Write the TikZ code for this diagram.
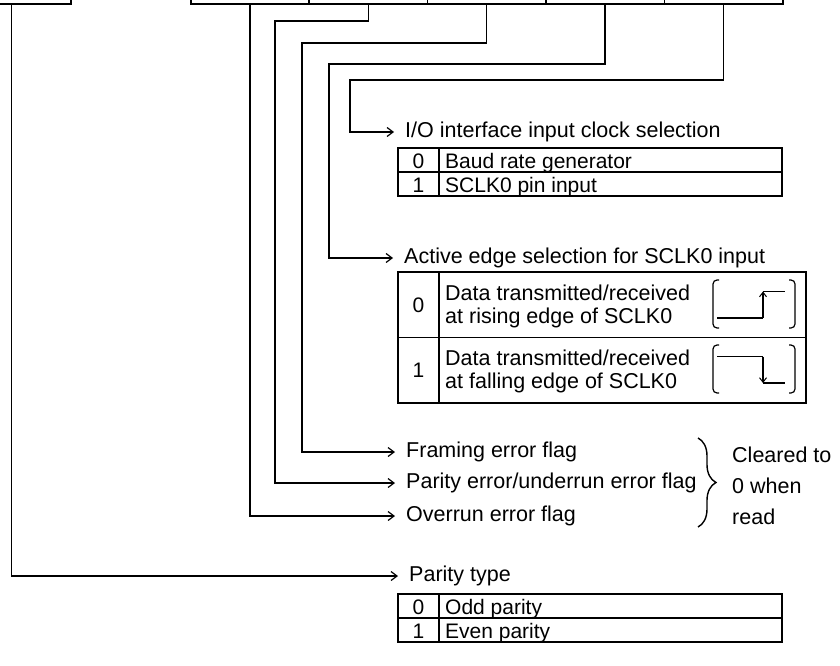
\documentclass[tikz,border=0pt]{standalone}
\usepackage{fontspec}
\setmainfont{Liberation Sans}
\usetikzlibrary{arrows.meta,decorations.pathreplacing}
\begin{document}
\begin{tikzpicture}[x=1pt,y=-1pt,
  ln/.style={line width=1.4pt},
  arr/.style={ln,-{Straight Barb[length=6pt,width=9pt,line width=1.2pt]},shorten >=11pt},
  cellbox/.style={draw,line width=1.5pt,minimum width=118.4pt,minimum height=40pt,inner sep=0pt,anchor=south west},
  lab/.style={anchor=west,inner sep=0pt,text height=15pt,text depth=4pt,font=\fontsize{21.5}{24}\selectfont},
  txt/.style={inner sep=0pt,text height=15.4pt,text depth=0pt,font=\fontsize{21}{24}\selectfont},
  twoline/.style={anchor=west,inner sep=0pt,align=left,font=\fontsize{21.5}{23}\selectfont},
  tbl/.style={line width=1.5pt},
  wave/.style={line width=1.2pt},
  wavearr/.style={line width=1.2pt,-{Straight Barb[length=4.5pt,width=7pt,line width=1pt]}}
]
\useasboundingbox (0,0) rectangle (840,666);
\clip (0,0) rectangle (840,666);

% register cells at top
\node[cellbox] (c0) at (-48.4,5) {};
\node[cellbox] (c1) at (190,5) {};
\node[cellbox] (c2) at (308.4,5) {};
\node[cellbox] (c3) at (426.8,5) {};
\node[cellbox] (c4) at (545.2,5) {};
\node[cellbox] (c5) at (663.6,5) {};

% labels
\node[lab] (lio) at (405,132) {I/O interface input clock selection};
\node[lab] (lae) at (404,258) {Active edge selection for SCLK0 input};
\node[lab] (lfe) at (406,452) {Framing error flag};
\node[lab] (lpe) at (406,483) {Parity error/underrun error flag};
\node[lab] (lov) at (406,516) {Overrun error flag};
\node[lab] (lpt) at (409,576) {Parity type};

% connectors
\draw[arr] (c5.south) |- (350,80) |- (lio.west);
\draw[arr] (c4.south) |- (329,64) |- (lae.west);
\draw[arr] (c3.south) |- (302,43) |- (lfe.west);
\draw[arr] (c2.south) |- (275,21) |- (lpe.west);
\draw[arr] (c1.south) |- (lov.west);
\draw[arr] (c0.south) |- (lpt.west);

% I/O clock table
\draw[tbl] (398,148) rectangle (782,196);
\draw[tbl] (398,172) -- (782,172);
\draw[tbl] (439,148) -- (439,196);
\node[txt] (io0n) at (418.5,160.5) {0};
\node[txt,anchor=west] (io0t) at (445,160.5) {Baud rate generator};
\node[txt] (io1n) at (418.5,184.5) {1};
\node[txt,anchor=west] (io1t) at (445,184.5) {SCLK0 pin input};

% active edge table
\draw[tbl] (398,272) rectangle (806,403);
\draw[tbl] (398,337.5) -- (806,337.5);
\draw[tbl] (439,272) -- (439,403);
\node[txt] (ae0n) at (418.5,304.75) {0};
\node[twoline] (ae0t) at (445,306) {Data transmitted/received\\at rising edge of SCLK0};
\node[txt] (ae1n) at (418.5,370.25) {1};
\node[twoline] (ae1t) at (445,371.5) {Data transmitted/received\\at falling edge of SCLK0};

% waveform symbols, row 0 (rising)
\draw[wave,rounded corners=4pt] (719,280) -- (713,280) -- (713,328) -- (719,328);
\draw[wave,rounded corners=4pt] (789,280) -- (795,280) -- (795,328) -- (789,328);
\draw[wave] (717,318) -- (763,318);
\draw[wavearr] (763,318) -- (763,291.5);
\draw[wave] (763,291.5) -- (785,291.5);
% waveform symbols, row 1 (falling)
\draw[wave,rounded corners=4pt] (719,345) -- (713,345) -- (713,393) -- (719,393);
\draw[wave,rounded corners=4pt] (789,345) -- (795,345) -- (795,393) -- (789,393);
\draw[wave] (717,356.5) -- (763,356.5);
\draw[wavearr] (763,356.5) -- (763,383);
\draw[wave] (763,383) -- (785,383);

% brace
\draw[ln,decorate,decoration={brace,amplitude=18pt}] (698,438) -- (698,527);
\node[anchor=west,inner sep=0pt,align=left,font=\fontsize{21.5}{31}\selectfont] (clr) at (732,486) {Cleared to\\0 when\\read};

% parity type table
\draw[tbl] (398,594) rectangle (782,642);
\draw[tbl] (398,618) -- (782,618);
\draw[tbl] (439,594) -- (439,642);
\node[txt] (pt0n) at (418.5,606.5) {0};
\node[txt,anchor=west] (pt0t) at (445,606.5) {Odd parity};
\node[txt] (pt1n) at (418.5,630.5) {1};
\node[txt,anchor=west] (pt1t) at (445,630.5) {Even parity};
\end{tikzpicture}
\end{document}
